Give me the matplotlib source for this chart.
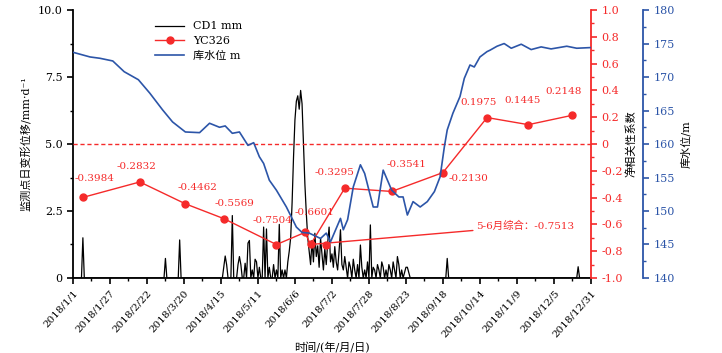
import numpy as np
import matplotlib
matplotlib.use('Agg')
import matplotlib.pyplot as plt

plt.rcParams['font.family'] = ['DejaVu Serif', 'Noto Sans CJK SC']
plt.rcParams['axes.unicode_minus'] = True

# x axis = day of year 2018 (0 = 2018/1/1)
tick_days = [0, 26, 52, 78, 104, 130, 156, 182, 208, 234, 260, 286, 312, 338, 364]
tick_labels = ['2018/1/1', '2018/1/27', '2018/2/22', '2018/3/20', '2018/4/15', '2018/5/11',
               '2018/6/6', '2018/7/2', '2018/7/28', '2018/8/23', '2018/9/18', '2018/10/14',
               '2018/11/9', '2018/12/5', '2018/12/31']

# CD1 daily displacement (mm), non-zero days only
rain_days = [7, 65, 75, 106, 107, 108, 112, 116, 117, 118, 121, 123, 124, 126, 128, 129, 131,
             134, 136, 138, 141, 143, 145, 147, 149, 151,
             152, 153, 154, 155, 156, 157, 158, 159, 160, 161, 162, 163, 164, 165, 166,
             167, 168, 169, 170, 171, 172, 173, 174, 175, 176, 177, 178, 179, 180, 181, 182,
             183, 184, 185, 186, 187, 188, 189, 190, 191, 192, 194, 195, 197, 198, 200, 202,
             203, 205, 207, 209, 211, 212, 214, 215, 217, 218, 220, 222, 223, 225, 226, 228,
             229, 231, 233, 234, 235, 236, 263, 355]
rain_vals = [1.5, 0.73, 1.42, 0.4, 0.82, 0.5, 2.33, 0.5, 0.8, 0.5, 0.55, 1.3, 1.4, 0.3, 0.7, 0.6, 0.4,
             1.9, 1.83, 0.4, 0.5, 0.3, 2.0, 0.3, 0.3, 0.6,
             1.0, 1.5, 2.8, 4.5, 5.9, 6.6, 6.8, 6.3, 7.0, 6.5, 5.0, 3.5, 2.4, 1.5, 1.0,
             0.5, 1.4, 0.6, 1.67, 0.8, 1.2, 0.4, 1.48, 0.9, 0.3, 1.1, 0.5, 1.3, 1.9, 0.6, 0.9,
             0.4, 1.17, 0.6, 0.3, 1.0, 1.8, 0.5, 0.3, 0.8, 0.4, 0.6, 0.4, 0.7, 0.3, 0.5, 1.23,
             0.4, 0.3, 0.6, 1.98, 0.4, 0.3, 0.5, 0.3, 0.6, 0.4, 0.3, 0.5, 0.3, 0.6, 0.3, 0.8,
             0.5, 0.3, 0.2, 0.4, 0.4, 0.2, 0.73, 0.42]

# reservoir level (m)
level_days = [0, 12, 19, 28, 36, 46, 54, 63, 70, 79, 89, 96, 103, 107, 112, 117, 123, 127, 131,
              134, 138, 143, 150, 157, 161, 166, 174, 178, 181, 184, 188, 190, 193, 197, 202,
              205, 211, 214, 218, 220, 224, 229, 232, 235, 239, 244, 249, 254, 258, 261, 263,
              267, 272, 275, 279, 282, 286, 291, 293, 298, 303, 308, 315, 322, 329, 336, 347,
              354, 364]
level_vals = [173.7, 173.0, 172.8, 172.4, 170.8, 169.6, 167.6, 165.1, 163.3, 161.8, 161.7, 163.1,
              162.5, 162.7, 161.6, 161.8, 159.8, 160.2, 158.1, 157.1, 154.6, 153.1, 150.6, 147.6,
              146.8, 146.7, 145.9, 146.7, 145.4, 146.9, 148.9, 147.2, 148.7, 153.6, 156.9, 155.6,
              150.6, 150.6, 156.1, 155.1, 153.1, 152.1, 152.1, 149.4, 151.4, 150.6, 151.4, 152.9,
              155.1, 159.6, 162.1, 164.6, 167.1, 169.8, 171.8, 171.5, 173.0, 173.8, 174.0, 174.6,
              175.0, 174.3, 174.9, 174.1, 174.5, 174.2, 174.6, 174.3, 174.4]

# YC326 net correlation coefficient
yc_days = [7, 47, 79, 106, 143, 163, 167, 191, 224, 260, 291, 320, 351]
yc_vals = [-0.3984, -0.2832, -0.4462, -0.5569, -0.7504, -0.6601, -0.75, -0.3295, -0.3541,
           -0.2130, 0.1975, 0.1445, 0.2148]
yc_labels = ['-0.3984', '-0.2832', '-0.4462', '-0.5569', '-0.7504', '-0.6601', '',
             '-0.3295', '-0.3541', '-0.2130', '0.1975', '0.1445', '0.2148']
label_offsets = [(12, 14), (-3, 11), (12, 12), (11, 11), (-4, 20), (10, 15), (0, 0),
                 (-10, 11), (15, 22), (26, -10), (-9, 11), (-6, 20), (-9, 19)]
comp_day = 178
comp_val = -0.7513
comp_text = '5-6月综合：-0.7513'

red = '#f52a2a'
blue = '#2c55a8'

fig = plt.figure(figsize=(7.22, 3.53), dpi=100)
ax = fig.add_axes([0.101, 0.2125, 0.7175, 0.759])
ax2 = ax.twinx()
ax3 = ax.twinx()
ax3.spines['right'].set_position(('outward', 37.4))

rain = np.zeros(365)
rain[rain_days] = rain_vals
l1, = ax.plot(np.arange(365), rain, color='black', lw=0.9, label='CD1 mm')
l3, = ax3.plot(level_days, level_vals, color=blue, lw=1.2, label='库水位 m')
l2, = ax2.plot(yc_days, yc_vals, color=red, lw=1.0, marker='o', ms=5, label='YC326')
ax2.axhline(0, color=red, lw=1.0, ls='--', dashes=(3, 2))

for d, v, t, off in zip(yc_days, yc_vals, yc_labels, label_offsets):
    if t:
        ax2.annotate(t, (d, v), xytext=off, textcoords='offset pixels', ha='center',
                     va='bottom', color=red, fontsize=7.5)

ax2.plot(comp_day, comp_val, 'o', color=red, ms=5)
ax2.annotate(comp_text, (yc_days[6], yc_vals[6]), xytext=(283, -0.612), textcoords='data',
             ha='left', va='center', color=red, fontsize=7.5,
             arrowprops=dict(arrowstyle='-', color=red, lw=1.0, shrinkA=0, shrinkB=0))

ax.set_xlim(0, 364)
ax.set_ylim(0, 10)
ax2.set_ylim(-1, 1)
ax3.set_ylim(140, 180)

ax.set_xticks(tick_days)
ax.set_xticklabels(tick_labels, rotation=48, ha='right', rotation_mode='anchor', fontsize=7.5)
ax.set_xticks(np.arange(13, 364, 26), minor=True)
ax.set_yticks([0, 2.5, 5, 7.5, 10])
ax.set_yticklabels(['0', '2.5', '5.0', '7.5', '10.0'], fontsize=8)
ax.set_yticks([1.25, 3.75, 6.25, 8.75], minor=True)

ax2.set_yticks(np.linspace(-1, 1, 11))
ax2.set_yticklabels(['-1.0', '-0.8', '-0.6', '-0.4', '-0.2', '0', '0.2', '0.4', '0.6', '0.8', '1.0'],
                    fontsize=8, color=red)
ax2.set_yticks(np.linspace(-0.9, 0.9, 10), minor=True)
ax3.set_yticks(np.arange(140, 181, 5))
ax3.set_yticks(np.arange(142.5, 180, 5), minor=True)
ax3.tick_params(axis='y', labelsize=8, colors=blue)

for a in (ax, ax2, ax3):
    a.spines['top'].set_visible(False)
    a.tick_params(which='major', length=4, width=1.2, direction='out')
    a.tick_params(which='minor', length=2.5, width=1.0, direction='out')
for s in ('left', 'bottom'):
    ax.spines[s].set_linewidth(1.3)
ax.spines['right'].set_visible(False)
ax2.spines['left'].set_visible(False)
ax3.spines['left'].set_visible(False)
ax2.spines['right'].set_color(red)
ax2.spines['right'].set_linewidth(1.3)
ax2.tick_params(axis='y', which='both', colors=red)
ax3.spines['right'].set_color(blue)
ax3.spines['right'].set_linewidth(1.3)
ax3.tick_params(axis='y', which='both', colors=blue)
ax2.spines['bottom'].set_visible(False)
ax3.spines['bottom'].set_visible(False)

ax.set_ylabel('监测点日变形位移/mm·d⁻¹', fontsize=8, labelpad=4)
ax2.set_ylabel('净相关性系数', fontsize=8, labelpad=2, color='black')
ax3.set_ylabel('库水位/m', fontsize=8, labelpad=4, color='black')
ax.set_xlabel('时间/(年/月/日)', fontsize=8, labelpad=2)

ax.legend(handles=[l1, l2, l3], loc='upper left', bbox_to_anchor=(0.14, 0.995), frameon=False,
          fontsize=8, handlelength=2.6, labelspacing=0.4)

fig.savefig('out.png', dpi=100)
